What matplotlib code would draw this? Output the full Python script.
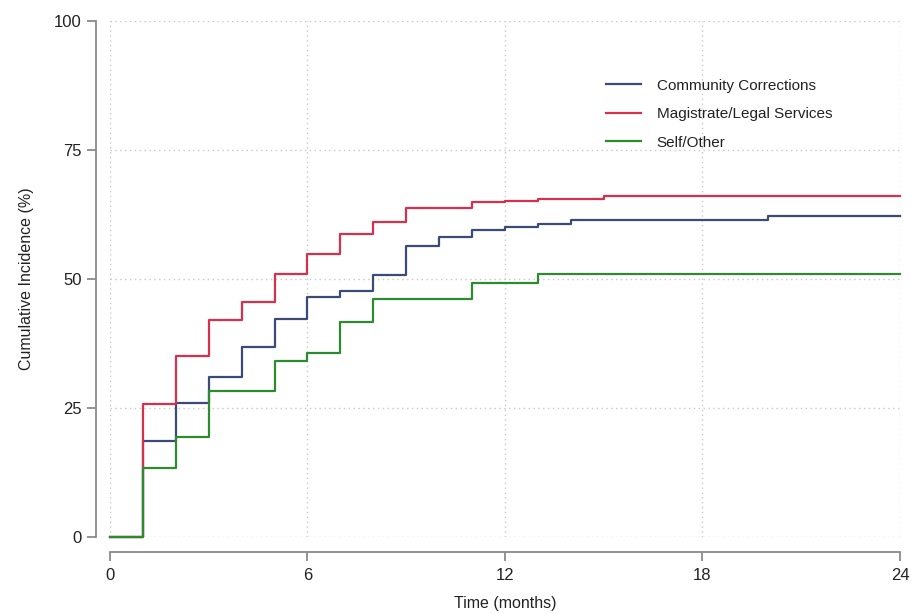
import matplotlib
matplotlib.use("Agg")
import matplotlib.pyplot as plt

plt.rcParams['font.family'] = ['Liberation Sans', 'DejaVu Sans']

# Data
series_names = ["Community Corrections", "Magistrate/Legal Services", "Self/Other"]
cc_t = [0, 1, 2, 3, 4, 5, 6, 7, 8, 9, 10, 11, 12, 13, 14, 20, 24]
cc_v = [0, 18.6, 25.9, 31.1, 36.9, 42.2, 46.5, 47.6, 50.7, 56.3, 58.1, 59.4, 60.1, 60.7, 61.4, 62.3, 62.3]
ml_t = [0, 1, 2, 3, 4, 5, 6, 7, 8, 9, 11, 12, 13, 15, 24]
ml_v = [0, 25.8, 35.1, 42.1, 45.6, 51.0, 54.8, 58.7, 61.1, 63.8, 64.9, 65.2, 65.6, 66.1, 66.1]
so_t = [0, 1, 2, 3, 5, 6, 7, 8, 11, 13, 24]
so_v = [0, 13.3, 19.3, 28.2, 34.1, 35.6, 41.7, 46.1, 49.3, 51.0, 51.0]
x_ticks = [0, 6, 12, 18, 24]
y_ticks = [0, 25, 50, 75, 100]

colors = ["#3c4a78", "#d6304f", "#2e8a2e"]

fig = plt.figure(figsize=(9.12, 6.14), dpi=100)
ax = fig.add_axes([110/912, 77/614, 790/912, 516/614])

for t, v, c, name in zip([cc_t, ml_t, so_t], [cc_v, ml_v, so_v], colors, series_names):
    ax.step(t, v, where='post', color=c, lw=1.6, label=name, clip_on=False, zorder=3)

ax.set_xlim(0, 24)
ax.set_ylim(0, 100)
ax.set_xticks(x_ticks)
ax.set_yticks(y_ticks)

ax.grid(True, color="#c8c8c8", linestyle=(0, (1, 2.5)), lw=1.0)
ax.set_axisbelow(True)

for s in ['top', 'right']:
    ax.spines[s].set_visible(False)
ax.spines['left'].set_position(('outward', 10))
ax.spines['bottom'].set_position(('outward', 11))
for s in ['left', 'bottom']:
    ax.spines[s].set_color("#8a8a8a")
    ax.spines[s].set_linewidth(1.3)

ax.tick_params(axis='both', colors="#8a8a8a", length=6.5, width=1.3, labelcolor="#222222", labelsize=12)
ax.tick_params(axis='y', pad=4)
ax.tick_params(axis='x', pad=5)

ax.set_xlabel("Time (months)", fontsize=11.5, color="#222222", labelpad=9)
ax.set_ylabel("Cumulative Incidence (%)", fontsize=11.5, color="#222222", labelpad=14)

leg = ax.legend(loc='upper left', bbox_to_anchor=(0.628, 0.888), frameon=False,
                fontsize=11, handlelength=2.3, handletextpad=1.0, labelspacing=0.95,
                borderaxespad=0, borderpad=0)
for txt in leg.get_texts():
    txt.set_color("#222222")

fig.savefig("out.png", dpi=100, facecolor="white")
